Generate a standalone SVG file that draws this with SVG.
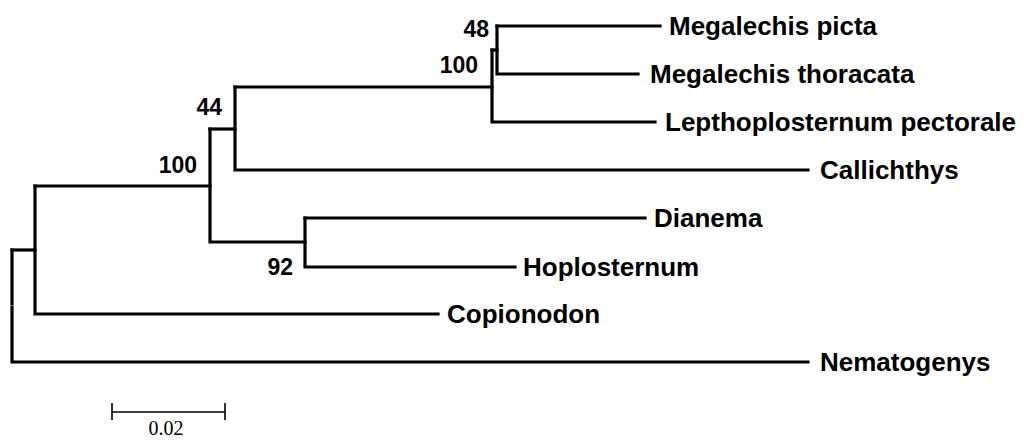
<svg xmlns="http://www.w3.org/2000/svg" width="1024" height="440" viewBox="0 0 1024 440">
  <style>
    .br { fill: none; stroke: #000; stroke-width: 3.2; stroke-linecap: square; stroke-linejoin: miter; }
    .taxon { font-family: "Liberation Sans", Arial, sans-serif; font-weight: bold; font-size: 26px; fill: #000; }
    .boot { font-family: "Liberation Sans", Arial, sans-serif; font-weight: bold; font-size: 23px; fill: #000; text-anchor: end; }
    .scale { fill: none; stroke: #000; stroke-width: 1.6; }
    .scaletext { font-family: "Liberation Serif", "Times New Roman", serif; font-size: 20px; fill: #000; text-anchor: middle; }
  </style>
  <rect width="1024" height="440" fill="#fff"/>

  <!-- branches of the tree -->
  <g id="connectors">
    <!-- root -->
    <path class="br" d="M12,250 V303.5"/>
    <path class="br" d="M12,307 V362 H808"/>
    <path class="br" d="M12,250 H35"/>
    <!-- ingroup node -->
    <path class="br" d="M35,186 V314 H438"/>
    <path class="br" d="M35,186 H210"/>
    <!-- node 100 -->
    <path class="br" d="M210,129 V242 H305"/>
    <path class="br" d="M210,129 H235"/>
    <!-- node 92 -->
    <path class="br" d="M305,218 V267 H515"/>
    <path class="br" d="M305,218 H645"/>
    <!-- node 44 -->
    <path class="br" d="M235,87 V170 H808"/>
    <path class="br" d="M235,87 H492"/>
    <!-- node 100 (upper) -->
    <path class="br" d="M492,50 V122 H655"/>
    <path class="br" d="M492,50 H497"/>
    <!-- node 48 -->
    <path class="br" d="M497,26 V74 H638"/>
    <path class="br" d="M497,26 H660"/>
  </g>

  <!-- internal nodes with support values -->
  <g id="node-48"><text class="boot" x="489" y="37">48</text></g>
  <g id="node-100a"><text class="boot" x="478" y="73">100</text></g>
  <g id="node-44"><text class="boot" x="222" y="115">44</text></g>
  <g id="node-100b"><text class="boot" x="197" y="173">100</text></g>
  <g id="node-92"><text class="boot" x="293" y="275">92</text></g>

  <!-- terminal taxa -->
  <g id="taxon-megalechis-picta"><text class="taxon" x="669" y="35">Megalechis picta</text></g>
  <g id="taxon-megalechis-thoracata"><text class="taxon" x="650" y="83">Megalechis thoracata</text></g>
  <g id="taxon-lepthoplosternum-pectorale"><text class="taxon" x="665" y="131">Lepthoplosternum pectorale</text></g>
  <g id="taxon-callichthys"><text class="taxon" x="820" y="179">Callichthys</text></g>
  <g id="taxon-dianema"><text class="taxon" x="654" y="227">Dianema</text></g>
  <g id="taxon-hoplosternum"><text class="taxon" x="523" y="276">Hoplosternum</text></g>
  <g id="taxon-copionodon"><text class="taxon" x="447" y="323">Copionodon</text></g>
  <g id="taxon-nematogenys"><text class="taxon" x="820" y="371">Nematogenys</text></g>

  <!-- scale bar -->
  <g id="scale-bar">
    <path class="scale" d="M112,412 H225 M112,403 V420 M225,403 V420"/>
    <text class="scaletext" x="166" y="435">0.02</text>
  </g>
</svg>
